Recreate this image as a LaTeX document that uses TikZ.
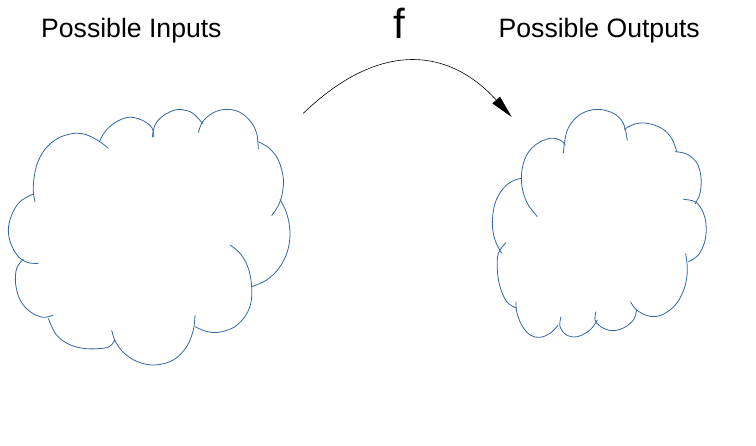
\documentclass[tikz,border=0pt]{standalone}
\usepackage{fontspec}
\setmainfont{Liberation Sans}
\usetikzlibrary{arrows.meta}
\definecolor{cloudblue}{HTML}{3465A4}
\tikzset{
  lbl/.style={inner sep=0pt, anchor=base west, font=\fontsize{26.6}{30}\selectfont},
  lobe/.style={draw=cloudblue, line width=0.8pt},
  maparrow/.style={draw=black, line width=0.6pt, -{Triangle[length=23pt,width=10pt]}}
}
\begin{document}
\begin{tikzpicture}[x=1pt,y=-1pt]
\useasboundingbox (0,0) rectangle (756,446);
% labels
\node[lbl] (inputs) at (41,37.7) {Possible Inputs};
\node[lbl] (outputs) at (498.5,37.7) {Possible Outputs};
\node[inner sep=0pt, anchor=base, font=\fontsize{42}{46}\selectfont] (fname) at (399,38.3) {f};
% arrow
\coordinate (astart) at (303.3,113.3);
\coordinate (aend) at (511.7,117);
\draw[maparrow] (astart) .. controls (376,43.3) and (445.7,44.6) .. (aend);
% left cloud
\begin{scope}[shift={(0,100)}, scale=1/3]
\draw[lobe] plot[smooth, tension=0.6] coordinates {(105,305)(100,275)(102,235)(112,190)(135,148)(170,117)(215,101)(255,103)(295,122)(325,145)};
\draw[lobe] plot[smooth, tension=0.6] coordinates {(300,122)(315,95)(345,68)(385,52)(425,60)(455,82)(462,112)};
\draw[lobe] plot[smooth, tension=0.6] coordinates {(457,112)(465,75)(490,47)(530,29)(570,35)(595,55)(608,72)};
\draw[lobe] plot[smooth, tension=0.6] coordinates {(595,98)(608,65)(640,38)(680,28)(720,37)(752,65)(770,100)(775,148)};
\draw[lobe] plot[smooth, tension=0.6] coordinates {(775,125)(808,145)(835,180)(850,235)(846,285)(833,320)(815,347)};
\draw[lobe] plot[smooth, tension=0.6] coordinates {(840,298)(860,340)(870,395)(863,452)(838,503)(800,540)(755,560)};
\draw[lobe] plot[smooth, tension=0.6] coordinates {(690,435)(722,462)(745,505)(755,560)(752,612)(733,652)(700,683)(655,697)(618,694)(585,680)};
\draw[lobe] plot[smooth, tension=0.6] coordinates {(585,645)(580,690)(560,740)(520,780)(465,795)(412,785)(370,757)(345,722)(335,690)};
\draw[lobe] plot[smooth, tension=0.6] coordinates {(345,720)(328,740)(295,746)(250,745)(205,732)(168,703)(145,655)};
\draw[lobe] plot[smooth, tension=0.6] coordinates {(160,645)(130,652)(93,637)(62,603)(47,553)(50,505)(70,478)};
\draw[lobe] plot[smooth, tension=0.6] coordinates {(115,490)(85,488)(55,470)(33,432)(25,390)(35,345)(60,305)(100,282)};
\end{scope}
% right cloud
\begin{scope}[shift={(480,90)}, scale=1/3]
\draw[lobe] plot[smooth, tension=0.6] coordinates {(172,380)(142,340)(126,290)(126,240)(140,195)(170,162)(210,145)(240,150)(256,165)};
\draw[lobe] plot[smooth, tension=0.6] coordinates {(250,190)(262,120)(298,75)(350,58)(400,70)(430,100)(442,152)};
\draw[lobe] plot[smooth, tension=0.6] coordinates {(432,118)(465,102)(502,100)(545,115)(575,145)(590,185)};
\draw[lobe] plot[smooth, tension=0.6] coordinates {(585,185)(620,192)(650,218)(663,262)(660,310)(645,342)};
\draw[lobe] plot[smooth, tension=0.6] coordinates {(610,328)(645,335)(667,362)(678,402)(675,452)(655,495)(625,515)};
\draw[lobe] plot[smooth, tension=0.6] coordinates {(617,490)(622,540)(614,592)(590,640)(555,670)(520,680)(485,670)(462,652)(452,635)};
\draw[lobe] plot[smooth, tension=0.6] coordinates {(470,660)(460,690)(430,714)(395,722)(362,710)(345,690)(348,665)};
\draw[lobe] plot[smooth, tension=0.6] coordinates {(352,690)(330,720)(292,740)(260,735)(240,710)(243,680)};
\draw[lobe] plot[smooth, tension=0.6] coordinates {(235,705)(210,730)(180,742)(150,735)(125,705)(110,665)(108,635)};
\draw[lobe] plot[smooth, tension=0.6] coordinates {(110,655)(80,635)(60,590)(52,540)(55,490)(78,458)};
\draw[lobe] plot[smooth, tension=0.6] coordinates {(65,490)(45,450)(37,400)(45,340)(70,295)(100,272)(125,265)};
\end{scope}
\end{tikzpicture}
\end{document}
